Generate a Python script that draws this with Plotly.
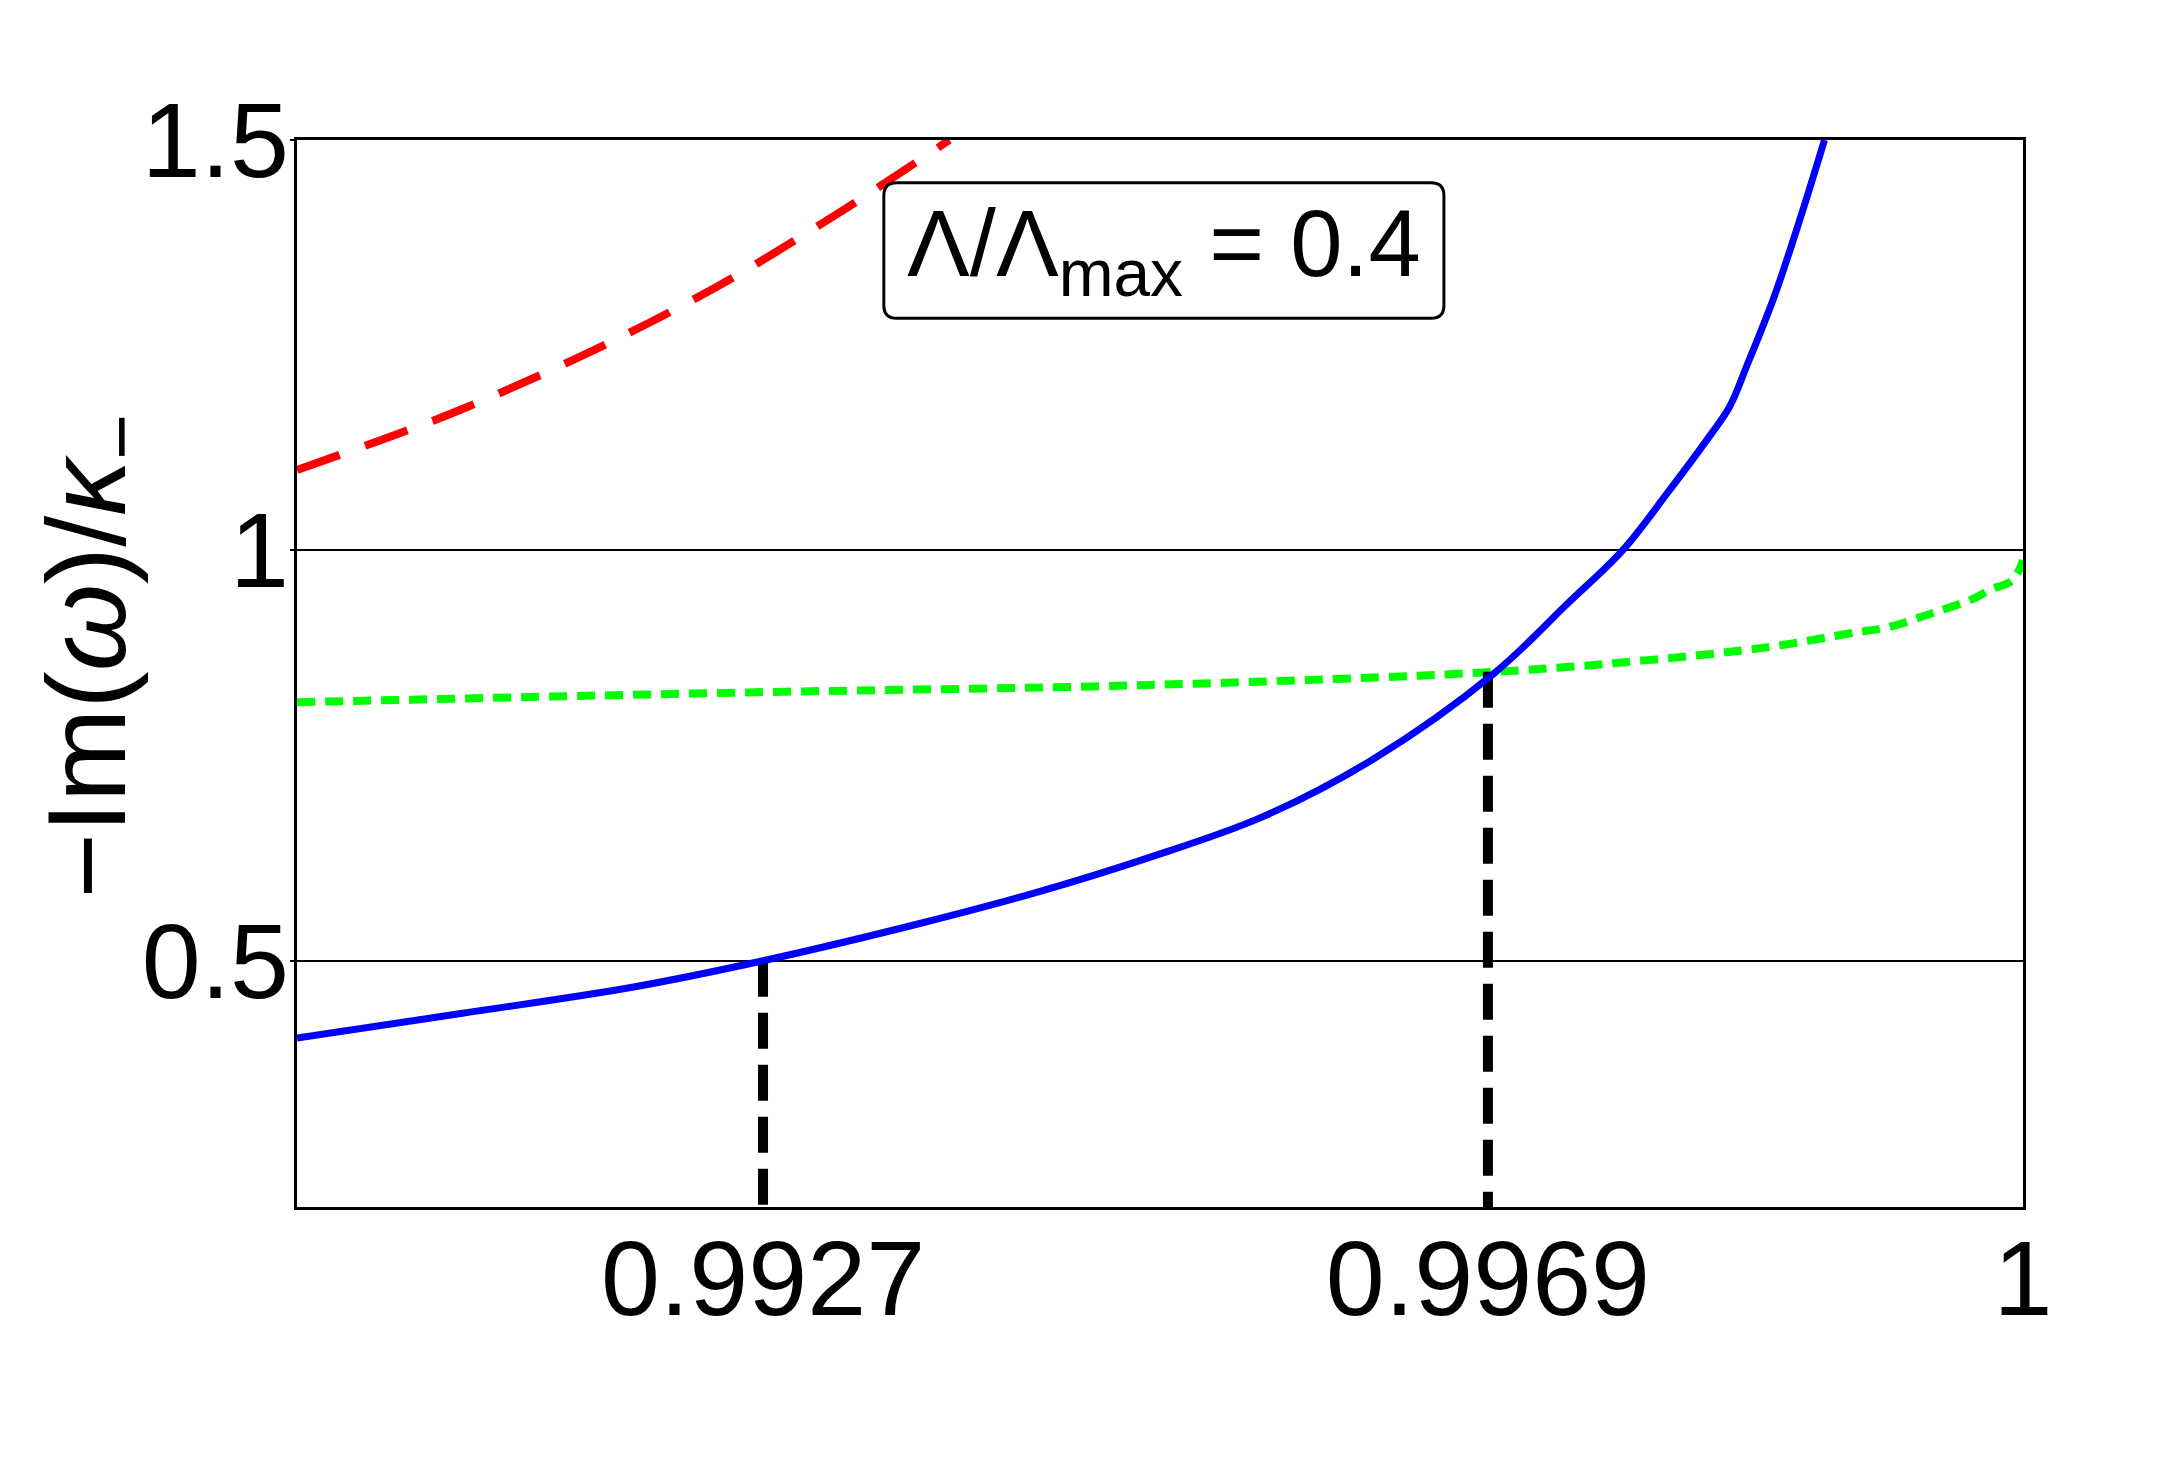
import plotly.graph_objects as go

# ---- data ----
blue_x = [0.99, 0.99096, 0.99195, 0.9927, 0.99362, 0.99428, 0.99494, 0.99559, 0.99623,
          0.99694, 0.99736, 0.99768, 0.99794, 0.99818, 0.9983, 0.9984, 0.99856, 0.99871, 0.99885]
blue_y = [0.406, 0.436, 0.468, 0.5, 0.546, 0.583, 0.626, 0.675, 0.745,
          0.851, 0.935, 1.0, 1.07, 1.138, 1.175, 1.225, 1.31, 1.405, 1.5]

green_x = [0.99, 0.99262, 0.99494, 0.99694, 0.99781, 0.99852, 0.9990, 0.99923,
           0.99948, 0.9997, 0.99981, 0.99994, 1.0]
green_y = [0.815, 0.827, 0.836, 0.852, 0.866, 0.882, 0.899, 0.907,
           0.924, 0.940, 0.952, 0.964, 0.988]

red_x = [0.99, 0.99061, 0.99099, 0.99172, 0.99243, 0.9931, 0.99378]
red_y = [1.098, 1.144, 1.175, 1.244, 1.321, 1.406, 1.5]

mark_x = [0.9927, 0.9969]
mark_y = [0.5, 0.852]
y_floor = 0.2

x_ticks = [0.9927, 0.9969, 1.0]
x_ticktext = ["0.9927", "0.9969", "1"]
y_ticks = [0.5, 1.0, 1.5]
y_ticktext = ["0.5", "1", "1.5"]

label_text = "Λ/Λ<sub>max</sub> = 0.4"
ytitle_text = "−Im(<i>ω</i>)/<i>κ</i><sub>−</sub>"

FONT = "Liberation Sans, Arial, sans-serif"

fig = go.Figure()

fig.add_trace(go.Scatter(x=red_x, y=red_y, mode="lines",
                         line=dict(color="#ff0000", width=8, dash="45px,27px", shape="spline", smoothing=1.0),
                         showlegend=False, hoverinfo="skip"))
fig.add_trace(go.Scatter(x=green_x, y=green_y, mode="lines",
                         line=dict(color="#00ff00", width=8, dash="18px,10px", shape="spline", smoothing=1.0),
                         showlegend=False, hoverinfo="skip"))
for mx, my in zip(mark_x, mark_y):
    fig.add_trace(go.Scatter(x=[mx, mx], y=[my, y_floor], mode="lines",
                             line=dict(color="black", width=10, dash="36px,16px"),
                             showlegend=False, hoverinfo="skip"))
fig.add_trace(go.Scatter(x=blue_x, y=blue_y, mode="lines",
                         line=dict(color="#0000ff", width=7, shape="spline", smoothing=1.0),
                         showlegend=False, hoverinfo="skip"))

fig.update_layout(
    width=2167, height=1484,
    margin=dict(l=297, r=144, t=140, b=277),
    paper_bgcolor="white", plot_bgcolor="white",
    font=dict(family=FONT, color="black"),
    xaxis=dict(range=[0.99, 1.0], tickvals=x_ticks, ticktext=x_ticktext,
               showgrid=False, zeroline=False, showline=True, linecolor="black",
               linewidth=2.5, mirror=True, ticks="", tickfont=dict(size=106, family=FONT),
               ticklabelstandoff=-22),
    yaxis=dict(range=[0.2, 1.5], tickvals=y_ticks, ticktext=y_ticktext,
               showgrid=True, gridcolor="black", gridwidth=2, zeroline=False,
               showline=True, linecolor="black", linewidth=2.5, mirror=True,
               ticks="outside", ticklen=4, tickwidth=2, tickcolor="black",
               tickfont=dict(size=106, family=FONT), ticklabelstandoff=-20),
)

# rounded box behind the parameter label
bx0, bx1, by0, by1 = 0.340, 0.6645, 0.833, 0.960
rx, ry = 0.0075, 0.012
box_path = (f"M {bx0+rx},{by0} L {bx1-rx},{by0} Q {bx1},{by0} {bx1},{by0+ry} "
            f"L {bx1},{by1-ry} Q {bx1},{by1} {bx1-rx},{by1} L {bx0+rx},{by1} "
            f"Q {bx0},{by1} {bx0},{by1-ry} L {bx0},{by0+ry} Q {bx0},{by0} {bx0+rx},{by0} Z")
fig.add_shape(type="path", xref="paper", yref="paper", path=box_path,
              line=dict(color="black", width=3), fillcolor="white", layer="above")

fig.add_annotation(xref="paper", yref="paper", x=(bx0 + bx1) / 2, y=(by0 + by1) / 2,
                   xanchor="center", yanchor="middle", text=label_text, showarrow=False,
                   font=dict(size=94, family=FONT, color="black"))

fig.add_annotation(xref="paper", yref="paper", x=-0.117, y=0.516,
                   xanchor="center", yanchor="middle", text=ytitle_text, showarrow=False,
                   textangle=-90, font=dict(size=112, family=FONT, color="black"))

fig.write_html("out.html")
